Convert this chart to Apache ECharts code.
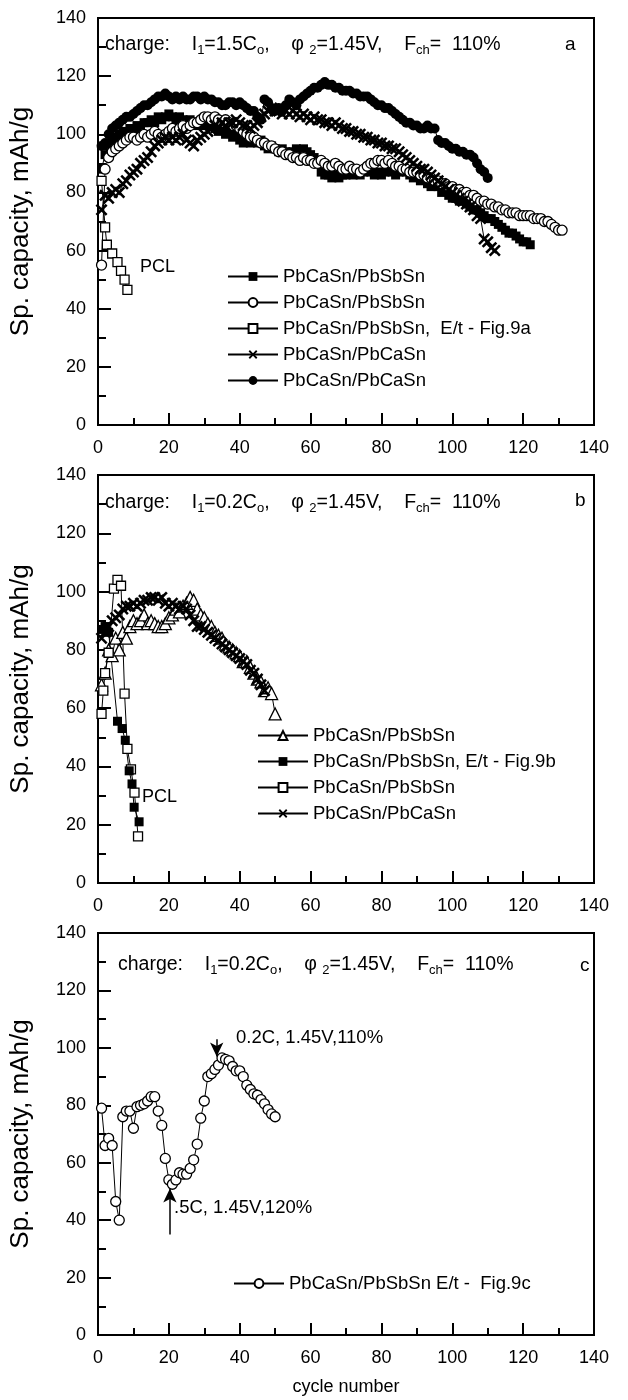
<!DOCTYPE html>
<html>
<head>
<meta charset="utf-8">
<script src="https://cdn.jsdelivr.net/npm/echarts@6.0.0/dist/echarts.min.js"></script>
<style>
  html, body { margin: 0; padding: 0; background: #fff; }
  #ct-container { width: 628px; height: 1400px; }
</style>
</head>
<body>
<div id="ct-container"></div>
<script>
// x ticks / y ticks shared by all three panels
var xTicks = [0, 20, 40, 60, 80, 100, 120, 140]
var yTicks = [0, 20, 40, 60, 80, 100, 120, 140]

// panel a, one value per cycle starting at cycle 1
var aFilledSq = [
  88, 93, 96, 98, 99, 100, 101, 100, 102, 101,
  103, 102, 104, 104, 105, 104, 106, 105, 106, 107,
  106, 105, 106, 105, 104, 105, 104, 103, 104, 103,
  104, 103, 102, 101, 102, 100, 101, 99, 100, 98,
  97, 98, 97, 98, 97, 98, 96, 95, 96, 95,
  94, 95, 94, 93, 94, 95, 94, 95, 94, 93,
  92, 90, 87, 86, 86, 85, 86, 85, 86, 86,
  87, 86, 87, 86, 87, 88, 87, 86, 87, 86,
  87, 88, 87, 86, 87, 88, 87, 86, 85, 86,
  84, 85, 83, 82, 83, 82, 80, 81, 79, 78,
  78, 77, 77, 76, 75, 74, 74, 73, 72, 71,
  71, 70, 69, 68, 67, 66, 66, 65, 64, 63,
  63, 62
]
var aOpenCircle = [
  55, 88, 92, 94, 95, 96, 97, 98, 99, 99,
  98, 99, 100, 99, 100, 101, 100, 99, 100, 101,
  102, 101, 102, 103, 102, 103, 104, 104, 105, 106,
  106, 105, 106, 105, 104, 105, 104, 103, 103, 102,
  101, 100, 99, 99, 98, 97, 97, 96, 96, 95,
  94, 94, 93, 93, 92, 92, 91, 92, 91, 91,
  90, 90, 91, 90, 89, 89, 90, 89, 88, 88,
  89, 88, 88, 87, 88, 89, 90, 90, 91, 91,
  90, 91, 90, 89, 89, 88, 88, 87, 87, 87,
  86, 86, 85, 85, 84, 84, 83, 83, 82, 82,
  81, 81, 80, 80, 79, 79, 78, 77, 77, 76,
  76, 75, 75, 74, 74, 73, 73, 73, 72, 72,
  72, 72, 71, 71, 71, 70, 70, 69, 68, 67, 67
]
var aOpenSq = [[1, 84], [2, 68], [2.5, 62], [4, 59], [5.5, 56], [6.5, 53], [7.5, 50], [8.3, 46.5]]
var aCross = [
  74, 79, 78, 80, 81, 80, 83, 84, 86, 87,
  88, 90, 91, 92, 94, 96, 97, 98, 99, 98,
  99, 98, 99, 100, 98, 97, 96, 98, 99, 100,
  101, 102, 103, 102, 104, 103, 104, 104, 105, 104,
  103, 103, 102, 103, 104, 106, 107, 108, 109, 108,
  108, 107, 108, 107, 108, 107, 106, 107, 106, 105,
  106, 105, 105, 104, 104, 103, 104, 103, 102, 102,
  101, 101, 100, 100, 99, 99, 98, 98, 97, 97,
  96, 96, 95, 95, 94, 93, 92, 91, 90, 89,
  88, 88, 87, 86, 85, 84, 83, 82, 81, 80,
  79, 78, 77, 76, 75, 74, 72, 71, 64, 63,
  61, 60
]
var aFilledCircle = [
  96, 97, 100, 102, 103, 104, 105, 106, 106, 107,
  108, 109, 110, 110, 111, 112, 113, 113, 114, 113,
  112, 113, 112, 113, 112, 112, 113, 113, 112, 113,
  112, 112, 111, 111, 110, 110, 111, 111, 110, 111,
  110, 109, 108, 108, 106, 105, 112, 111, 109, 108,
  109, 108, 110, 112, 111, 110, 112, 113, 114, 115,
  116, 116, 117, 118, 117, 117, 116, 116, 115, 115,
  115, 114, 114, 113, 113, 113, 112, 111, 110, 110,
  109, 109, 108, 107, 106, 105, 104, 104, 103, 103,
  102, 102, 103, 102, 102, 98, 97, 97, 96, 95,
  95, 94, 94, 93, 93, 92, 90, 88, 87, 85
]

// panel b
var bTriangle = [
  68, 72, 80, 78, 84, 80, 86, 84, 88, 90,
  89, 90, 92, 89, 90, 89, 88, 88, 89, 91,
  92, 94, 93, 95, 96, 98, 97, 94, 92, 91,
  89, 88, 86, 85, 84, 82, 81, 80, 79, 78,
  76, 76, 74, 72, 70, 69, 66, 67, 65, 58
]
var bFilledSq = [[1, 87], [2, 88], [3, 86], [5.5, 55.5], [6.8, 53], [7.7, 49], [8.8, 38.5], [9.6, 34], [10.2, 26], [11.6, 21]]
var bOpenSq = [[1, 58], [1.5, 66], [2, 72], [3, 79], [4.5, 101], [5.5, 104], [6.5, 102], [7.5, 65], [8.3, 46], [9.3, 39], [10.3, 31], [11.3, 16]]
var bCross = [
  84, 86, 88, 90, 91, 92, 94, 95, 95, 96,
  95, 96, 97, 97, 98, 98, 97, 98, 96, 95,
  96, 95, 94, 95, 94, 92, 90, 88, 88, 87,
  86, 85, 84, 83, 82, 81, 80, 79, 78, 77,
  76, 75, 73, 72, 70, 68, 66
]

// panel c
var cOpenCircle = [
  79, 66, 68.5, 66, 46.5, 40, 76, 78, 78, 72,
  79.5, 80, 80.5, 81.5, 83, 83, 78, 73, 61.5, 54,
  52.5, 54, 56.5, 56, 56, 58, 61, 66.5, 75.5, 81.5,
  90, 91, 92.5, 94, 96.5, 96, 95.5, 93.5, 92, 92,
  90, 87, 85.5, 84, 83.5, 82, 80.5, 78.5, 77, 76
]

var legendText = {
  aSq: 'PbCaSn/PbSbSn',
  aOc: 'PbCaSn/PbSbSn',
  aOs: 'PbCaSn/PbSbSn,  E/t - Fig.9a',
  aX: 'PbCaSn/PbCaSn',
  aFc: 'PbCaSn/PbCaSn',
  bTr: 'PbCaSn/PbSbSn',
  bSq: 'PbCaSn/PbSbSn, E/t - Fig.9b',
  bOs: 'PbCaSn/PbSbSn',
  bX: 'PbCaSn/PbCaSn',
  cOc: 'PbCaSn/PbSbSn E/t -  Fig.9c'
}

var FONT = '"Liberation Sans", Arial, sans-serif'
var CROSS = 'path://M0,1.5L1.5,0L5,3.5L8.5,0L10,1.5L6.5,5L10,8.5L8.5,10L5,6.5L1.5,10L0,8.5L3.5,5Z'

function byCycle (vals) {
  return vals.map(function (v, i) { return [i + 1, v] })
}

function makeSeries (id, panel, data, symbol, size, filled) {
  return {
    name: id,
    type: 'line',
    xAxisIndex: panel,
    yAxisIndex: panel,
    data: data,
    symbol: symbol,
    symbolSize: size,
    showAllSymbol: true,
    animation: false,
    lineStyle: {color: '#000', width: 1},
    itemStyle: {
      color: filled ? '#000' : '#fff',
      borderColor: '#000',
      borderWidth: filled ? 0 : 1.3
    },
    emphasis: {disabled: true}
  }
}

var grids = [
  {top: 18, height: 407},
  {top: 475, height: 408},
  {top: 933, height: 402}
].map(function (g) {
  return {left: 97, width: 497, top: g.top, height: g.height, show: true, borderColor: '#000', borderWidth: 2}
})

var tickStyle = {color: '#000', width: 2}

var xAxes = [0, 1, 2].map(function (i) {
  return {
    type: 'value', gridIndex: i, min: xTicks[0], max: xTicks[xTicks.length - 1], interval: 20,
    axisLine: {lineStyle: {color: '#000', width: 2}},
    axisTick: {inside: true, length: 12, lineStyle: tickStyle},
    minorTick: {show: true, splitNumber: 2, length: 7, lineStyle: tickStyle},
    splitLine: {show: false},
    axisLabel: {color: '#000', fontSize: 18, fontFamily: FONT, margin: 14},
    name: i === 2 ? 'cycle number' : '',
    nameLocation: 'middle',
    nameGap: 43,
    nameTextStyle: {color: '#000', fontSize: 18, fontFamily: FONT}
  }
})

var yAxes = [0, 1, 2].map(function (i) {
  return {
    type: 'value', gridIndex: i, min: yTicks[0], max: yTicks[yTicks.length - 1], interval: 20,
    axisLine: {lineStyle: {color: '#000', width: 2}},
    axisTick: {inside: true, length: 13, lineStyle: tickStyle},
    minorTick: {show: true, splitNumber: 2, length: 8, lineStyle: tickStyle},
    splitLine: {show: false},
    axisLabel: {color: '#000', fontSize: 18, fontFamily: FONT, margin: 12},
    name: 'Sp. capacity, mAh/g',
    nameLocation: 'middle',
    nameGap: 64,
    nameTextStyle: {color: '#000', fontSize: 26, fontFamily: FONT}
  }
})

var series = [
  makeSeries('aSq', 0, byCycle(aFilledSq), 'rect', 9, true),
  makeSeries('aOc', 0, byCycle(aOpenCircle), 'circle', 10, false),
  makeSeries('aOs', 0, aOpenSq, 'rect', 9, false),
  makeSeries('aX', 0, byCycle(aCross), CROSS, 12, true),
  makeSeries('aFc', 0, byCycle(aFilledCircle), 'circle', 10, true),
  makeSeries('bTr', 1, byCycle(bTriangle), 'triangle', 12, false),
  makeSeries('bX', 1, byCycle(bCross), CROSS, 12, true),
  makeSeries('bOs', 1, bOpenSq, 'rect', 9, false),
  makeSeries('bSq', 1, bFilledSq, 'rect', 9, true),
  makeSeries('cOc', 2, byCycle(cOpenCircle), 'circle', 10, false)
]
// arrows in panel c
series[9].markLine = {
  silent: true,
  symbol: ['none', 'arrow'],
  symbolSize: [10, 14],
  label: {show: false},
  lineStyle: {color: '#000', width: 1.5, type: 'solid'},
  data: [
    [{coord: [33.5, 103]}, {coord: [33.5, 97]}],
    [{coord: [20.3, 35]}, {coord: [20.3, 51]}]
  ]
}

function legendBox (names, left, top) {
  return {
    data: names, orient: 'vertical', left: left, top: top,
    itemWidth: 50, itemHeight: 11, itemGap: 7, selectedMode: false,
    formatter: function (n) { return legendText[n] },
    textStyle: {color: '#000', fontSize: 18.5, fontFamily: FONT}
  }
}

var rich = {
  t: {fontSize: 19.5, fontFamily: FONT, fill: '#000', lineHeight: 23},
  s: {fontSize: 13, fontFamily: FONT, fill: '#000', lineHeight: 13, verticalAlign: 'bottom'}
}
function chargeLine (cur) {
  return '{t|charge:    I}{s|1}{t|=' + cur + 'C}{s|o}{t|,    φ }{s|2}{t|=1.45V,    F}{s|ch}{t|=  110%}'
}
function txt (s, left, top, size) {
  return {type: 'text', left: left, top: top, style: {text: s, fill: '#000', font: (size || 18) + 'px ' + FONT}}
}

var chart = echarts.init(document.getElementById('ct-container'))
chart.setOption({
  animation: false,
  backgroundColor: '#fff',
  grid: grids,
  xAxis: xAxes,
  yAxis: yAxes,
  legend: [
    legendBox(['aSq', 'aOc', 'aOs', 'aX', 'aFc'], 222, 262),
    legendBox(['bTr', 'bSq', 'bOs', 'bX'], 252, 721),
    legendBox(['cOc'], 228, 1269)
  ],
  series: series,
  graphic: [
    {type: 'text', left: 105, top: 35, style: {text: chargeLine('1.5'), rich: rich}},
    {type: 'text', left: 105, top: 493, style: {text: chargeLine('0.2'), rich: rich}},
    {type: 'text', left: 118, top: 955, style: {text: chargeLine('0.2'), rich: rich}},
    txt('a', 565, 35, 19),
    txt('b', 575, 491, 19),
    txt('c', 580, 956, 19),
    txt('PCL', 140, 258),
    txt('PCL', 142, 788),
    txt('0.2C, 1.45V,110%', 236, 1028, 18.5),
    txt('.5C, 1.45V,120%', 174, 1198, 18.5)
  ]
})
</script>
</body>
</html>
